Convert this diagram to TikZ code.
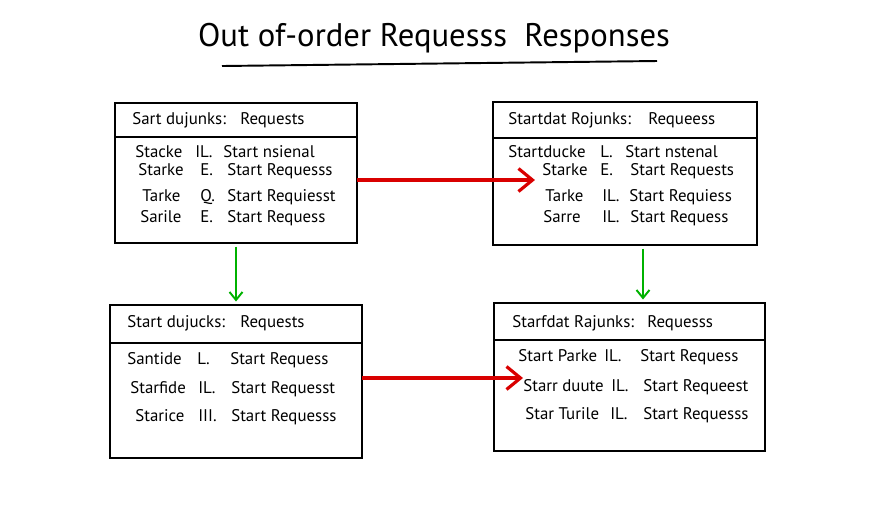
\documentclass[tikz,border=0pt]{standalone}
\usepackage{fontspec}
\setmainfont{PT Sans}
\usepackage{tikz}
\usetikzlibrary{arrows.meta}
\usetikzlibrary{positioning}

% first two columns of a row get fixed widths
\newcommand{\cols}[5]{\makebox[#1][l]{#2}\makebox[#3][l]{#4}#5}

\begin{document}
\begin{tikzpicture}[x=0.02cm,y=-0.02cm,
        box/.style={draw, line width=1.1pt, inner sep=0pt, outer sep=0pt},
        row/.style={anchor=west, inner sep=0pt, font=\fontsize{9.6}{11}\selectfont},
        req/.style={draw=red!85!black, line width=1.8pt, -{Straight Barb[length=2.8mm,width=4.6mm]}},
        flow/.style={draw=green!70!black, line width=1.1pt, -{Straight Barb[length=1.6mm,width=2.6mm]}, shorten <=2pt, shorten >=2pt}]
        \useasboundingbox (0,0) rectangle (896,512);

        % title
        \node[font=\fontsize{18.6}{22}\selectfont, inner sep=0pt] (title) at (434,38) {Out of-order Requesss \ Responses};
        \draw[line width=1.1pt] (222,66) -- (657,61);

        % boxes
        \node[box, minimum width=4.84cm, minimum height=2.8cm] (A) at (236,173) {};
        \draw[line width=1.1pt] ([yshift=-0.68cm]A.north west) -- ([yshift=-0.68cm]A.north east);
        \node[box, minimum width=5.28cm, minimum height=2.86cm] (B) at (625,173.5) {};
        \draw[line width=1.1pt] ([yshift=-0.72cm]B.north west) -- ([yshift=-0.72cm]B.north east);
        \node[box, minimum width=5.04cm, minimum height=3.06cm] (C) at (236,381.5) {};
        \draw[line width=1.1pt] ([yshift=-0.76cm]C.north west) -- ([yshift=-0.76cm]C.north east);
        \node[box, minimum width=5.42cm, minimum height=2.96cm] (D) at (629.5,377) {};
        \draw[line width=1.1pt] ([yshift=-0.74cm]D.north west) -- ([yshift=-0.74cm]D.north east);

        % box A
        \node[row] (a0) at (132,120) {\makebox[2.16cm][l]{Sart dujunks:}Requests};
        \node[row] (a1) at (135,152) {\cols{1.2cm}{Stacke}{0.56cm}{IL.}{Start nsienal}};
        \node[row] (a2) at (138,171) {\cols{1.24cm}{Starke}{0.54cm}{E.}{Start Requesss}};
        \node[row] (a3) at (142,197) {\cols{1.16cm}{Tarke}{0.54cm}{Q.}{Start Requiesst}};
        \node[row] (a4) at (140,218) {\cols{1.2cm}{Sarile}{0.54cm}{E.}{Start Requess}};

        % box B
        \node[row] (b0) at (508,120) {\makebox[2.8cm][l]{Startdat Rojunks:}Requeess};
        \node[row] (b1) at (508,152) {\cols{1.84cm}{Startducke}{0.5cm}{L.}{Start nstenal}};
        \node[row] (b2) at (542,171) {\cols{1.16cm}{Starke}{0.6cm}{E.}{Start Requests}};
        \node[row] (b3) at (545,197) {\cols{1.14cm}{Tarke}{0.54cm}{IL.}{Start Requiess}};
        \node[row] (b4) at (543,218) {\cols{1.18cm}{Sarre}{0.56cm}{IL.}{Start Requess}};

        % box C
        \node[row] (c0) at (127,323) {\makebox[2.26cm][l]{Start dujucks:}Requests};
        \node[row] (c1) at (127,360) {\cols{1.4cm}{Santide}{0.66cm}{L.}{Start Requess}};
        \node[row] (c2) at (130,389) {\cols{1.36cm}{Starfide}{0.66cm}{IL.}{Start Requesst}};
        \node[row] (c3) at (135,417) {\cols{1.26cm}{Starice}{0.66cm}{III.}{Start Requesss}};

        % box D
        \node[row] (d0) at (512,323) {\makebox[2.7cm][l]{Starfdat Rajunks:}Requesss};
        \node[row] (d1) at (518,357) {\cols{1.72cm}{Start Parke}{0.72cm}{IL.}{Start Requess}};
        \node[row] (d2) at (523,387) {\cols{1.76cm}{Starr duute}{0.64cm}{IL.}{Start Requeest}};
        \node[row] (d3) at (525,415) {\cols{1.7cm}{Star Turile}{0.66cm}{IL.}{Start Requesss}};

        % arrows
        \draw[req, shorten >=4pt] (A.east |- 0,180) -- (b2.west |- 0,180);
        \draw[req] (C.east |- 0,378) -- (d2.west |- 0,378);
        \draw[flow] (A.south) -- (C.north);
        \draw[flow] (B.south -| 643,0) -- (D.north -| 643,0);
\end{tikzpicture}
\end{document}
